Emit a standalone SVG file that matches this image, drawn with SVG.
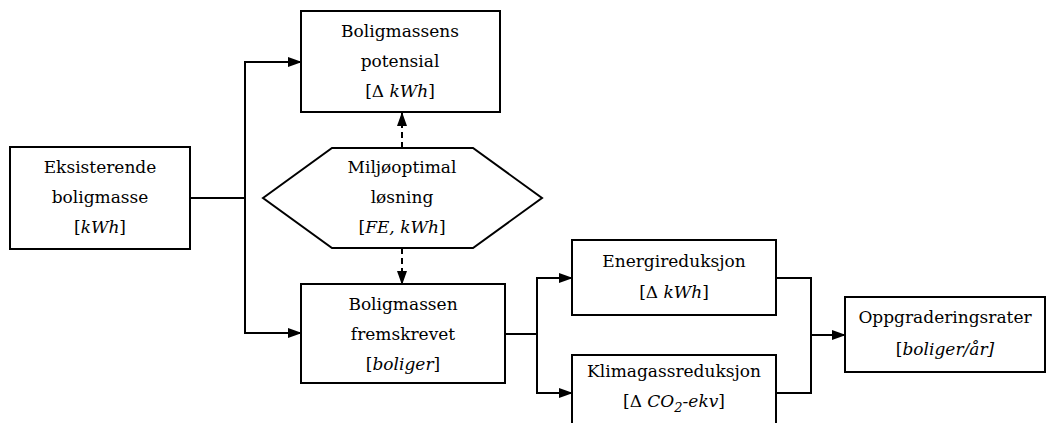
<svg xmlns="http://www.w3.org/2000/svg" width="1047" height="423" viewBox="0 0 1047 423">
<style>
.n{fill:#fff;stroke:#000;stroke-width:2}
.c{fill:none;stroke:#000;stroke-width:2}
.d{stroke-dasharray:6 4}
text{font-family:"DejaVu Serif","Liberation Serif",serif;font-size:17px;fill:#000;text-anchor:middle}
.i{font-style:italic}
</style>
<defs>
<marker id="a" markerWidth="14" markerHeight="10" refX="13" refY="5" orient="auto" markerUnits="userSpaceOnUse">
<path d="M0,0 L14,5 L0,10 Z" fill="#000"/>
</marker>
</defs>
<g id="connectors">
<path class="c" d="M190,198 H245"/>
<path class="c" d="M245,198 V62 H301" marker-end="url(#a)"/>
<path class="c" d="M245,198 V333 H301" marker-end="url(#a)"/>
<path class="c d" d="M402,148 V113" marker-end="url(#a)"/>
<path class="c d" d="M402,248 V284" marker-end="url(#a)"/>
<path class="c" d="M505,334 H537"/>
<path class="c" d="M537,334 V278 H572" marker-end="url(#a)"/>
<path class="c" d="M537,334 V393 H572" marker-end="url(#a)"/>
<path class="c" d="M776,278 H811 V335"/>
<path class="c" d="M776,393 H811 V335"/>
<path class="c" d="M811,335 H845" marker-end="url(#a)"/>
</g>
<g id="eksisterende">
<rect class="n" x="10" y="147" width="180" height="102"/>
<text x="100" y="173">Eksisterende</text>
<text x="100" y="203">boligmasse</text>
<text x="100" y="233">[<tspan class="i">kWh</tspan>]</text>
</g>
<g id="potensial">
<rect class="n" x="301" y="11" width="199" height="101"/>
<text x="400" y="37">Boligmassens</text>
<text x="400" y="67">potensial</text>
<text x="400" y="97">[Δ  <tspan class="i">kWh</tspan>]</text>
</g>
<g id="miljooptimal">
<polygon class="n" points="263,198 332,148 473,148 542,198 473,248 332,248"/>
<text x="402" y="173">Miljøoptimal</text>
<text x="402" y="203">løsning</text>
<text x="402" y="233">[<tspan class="i">FE, kWh</tspan>]</text>
</g>
<g id="fremskrevet">
<rect class="n" x="301" y="284" width="204" height="99"/>
<text x="403" y="310">Boligmassen</text>
<text x="403" y="340">fremskrevet</text>
<text x="403" y="370">[<tspan class="i">boliger</tspan>]</text>
</g>
<g id="energireduksjon">
<rect class="n" x="572" y="240" width="204" height="75"/>
<text x="674" y="267">Energireduksjon</text>
<text x="674" y="298">[Δ <tspan class="i">kWh</tspan>]</text>
</g>
<g id="klimagassreduksjon">
<rect class="n" x="572" y="355" width="204" height="75"/>
<text x="674" y="377">Klimagassreduksjon</text>
<text x="674" y="407">[Δ <tspan class="i">CO</tspan><tspan class="i" font-size="13" dy="5">2</tspan><tspan class="i" dy="-5">-ekv</tspan>]</text>
</g>
<g id="oppgraderingsrater">
<rect class="n" x="845" y="297" width="200" height="75"/>
<text x="945" y="323">Oppgraderingsrater</text>
<text x="945" y="355">[<tspan class="i">boliger/år]</tspan></text>
</g>
</svg>
